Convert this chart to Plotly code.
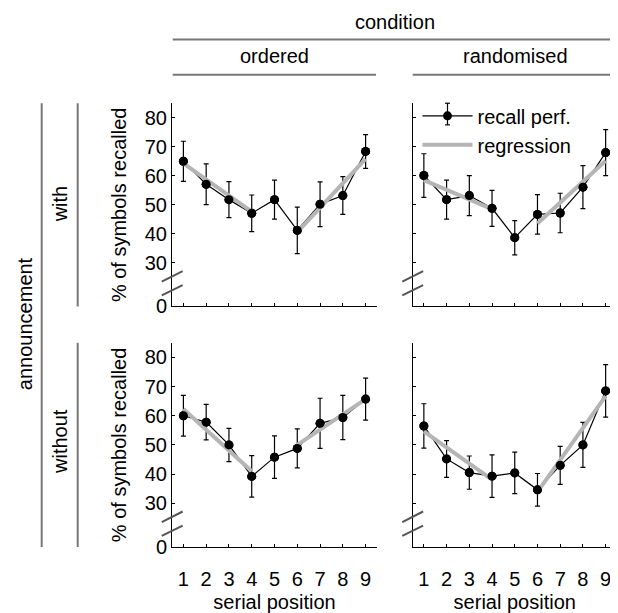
import plotly.graph_objects as go

# The page body has an 8px margin; the figure is sized/offset so that
# page coordinates match the 618x613 reference.
OFF = 8
W, H = 610, 605
FONT = "Liberation Sans, Arial, sans-serif"

# ---------------- data ----------------
positions = [1, 2, 3, 4, 5, 6, 7, 8, 9]

# with announcement
with_ordered = [65.0, 57.1, 51.8, 47.1, 51.8, 41.2, 50.2, 53.2, 68.4]
with_ordered_err = [6.9, 7.0, 6.2, 6.3, 6.7, 8.0, 7.7, 6.5, 5.8]
with_random = [60.1, 51.8, 53.2, 48.8, 38.7, 46.7, 47.2, 56.1, 68.0]
with_random_err = [7.5, 6.7, 6.9, 6.2, 5.9, 6.8, 6.8, 7.4, 7.9]

# without announcement
without_ordered = [60.0, 57.8, 50.0, 39.2, 45.8, 48.8, 57.4, 59.4, 65.7]
without_ordered_err = [7.0, 6.1, 5.7, 7.1, 7.3, 6.7, 8.6, 7.6, 7.2]
without_random = [56.5, 45.2, 40.5, 39.3, 40.4, 34.6, 43.0, 50.0, 68.5]
without_random_err = [7.6, 6.3, 5.7, 7.3, 7.1, 5.6, 6.5, 7.7, 9.0]

# regression segments (endpoints at positions 1-4 and 6-9)
reg_x = [1, 4, None, 6, 9]
reg_with_ordered = [64.3, 47.7, None, 40.6, 65.8]
reg_with_random = [58.5, 48.5, None, 43.6, 65.2]
reg_without_ordered = [62.3, 41.0, None, 50.0, 65.7]
reg_without_random = [54.6, 38.1, None, 33.9, 66.7]

y_tick_labels = [0, 30, 40, 50, 60, 70, 80]
Y_BREAK = 15  # axis position where the broken axis shows "0"
Y_TOP = 85

# ---------------- helpers ----------------
def px(x):
    return (x - OFF) / W

def py(y):
    return (H - (y - OFF)) / H

fig = go.Figure()

panels = [
    ("x", "y", with_ordered, with_ordered_err, reg_with_ordered, False),
    ("x2", "y2", with_random, with_random_err, reg_with_random, True),
    ("x3", "y3", without_ordered, without_ordered_err, reg_without_ordered, False),
    ("x4", "y4", without_random, without_random_err, reg_without_random, False),
]

for xa, ya, vals, errs, reg, legend in panels:
    fig.add_trace(go.Scatter(
        x=positions, y=vals, xaxis=xa, yaxis=ya,
        mode="lines+markers", name="recall perf.", showlegend=legend,
        line=dict(color="black", width=1.2),
        marker=dict(color="black", size=9),
        error_y=dict(type="data", array=errs, visible=True,
                     color="black", thickness=1.2, width=2.5),
    ))
    fig.add_trace(go.Scatter(
        x=reg_x, y=reg, xaxis=xa, yaxis=ya,
        mode="lines", name="regression", showlegend=legend,
        line=dict(color="#b5b5b5", width=4),
    ))
    fig.add_trace(go.Scatter(
        x=positions, y=vals, xaxis=xa, yaxis=ya,
        mode="markers", showlegend=False, hoverinfo="skip",
        marker=dict(color="black", size=9),
    ))

xdom_left = [px(172), px(377)]
xdom_right = [px(412.5), px(617)]
ydom_top = [py(312), py(105)]
ydom_bot = [py(557), py(349)]

tickvals = [Y_BREAK] + y_tick_labels[1:]
ticktext = [str(v) for v in y_tick_labels]

def xaxis(dom, anchor, labels):
    d = dict(domain=dom, anchor=anchor, range=[0.5, 9.5],
             tickvals=positions, ticks="inside", ticklen=3, tickcolor="black",
             showline=True, linecolor="black", linewidth=1,
             showgrid=False, zeroline=False, showticklabels=labels,
             tickfont=dict(size=20, color="black", family=FONT))
    if labels:
        d["ticklabelstandoff"] = 14
        d["title"] = dict(text="serial position", standoff=6,
                          font=dict(size=20, color="black", family=FONT))
    return d

def yaxis(dom, anchor, labels):
    d = dict(domain=dom, anchor=anchor, range=[Y_BREAK, Y_TOP],
             tickvals=tickvals, ticktext=ticktext,
             ticks="inside", ticklen=3, tickcolor="black",
             showline=True, linecolor="black", linewidth=1,
             showgrid=False, zeroline=False, showticklabels=labels,
             tickfont=dict(size=20, color="black", family=FONT))
    if labels:
        d["title"] = dict(text="% of symbols recalled", standoff=12,
                          font=dict(size=20, color="black", family=FONT))
    return d

fig.update_layout(
    xaxis=xaxis(xdom_left, "y", False),
    xaxis2=xaxis(xdom_right, "y2", False),
    xaxis3=xaxis(xdom_left, "y3", True),
    xaxis4=xaxis(xdom_right, "y4", True),
    yaxis=yaxis(ydom_top, "x", True),
    yaxis2=yaxis(ydom_top, "x2", False),
    yaxis3=yaxis(ydom_bot, "x3", True),
    yaxis4=yaxis(ydom_bot, "x4", False),
)

shapes = []
annotations = []
GRAY = "#777777"

def hline(x0, x1, y, color=GRAY, width=2):
    shapes.append(dict(type="line", xref="paper", yref="paper",
                       x0=px(x0), x1=px(x1), y0=py(y), y1=py(y),
                       line=dict(color=color, width=width)))

def vline(x, y0, y1, color=GRAY, width=2):
    shapes.append(dict(type="line", xref="paper", yref="paper",
                       x0=px(x), x1=px(x), y0=py(y0), y1=py(y1),
                       line=dict(color=color, width=width)))

def text(t, x, y, angle=0):
    annotations.append(dict(text=t, x=px(x), y=py(y), xref="paper", yref="paper",
                            showarrow=False, textangle=angle,
                            xanchor="center", yanchor="middle",
                            font=dict(size=20, color="black", family=FONT)))

# column headers
text("condition", 395, 22)
hline(172.7, 616.5, 40)
text("ordered", 274, 57)
text("randomised", 515, 57)
hline(172.7, 376, 76)
hline(412.7, 616.5, 76)

# row headers
text("announcement", 25, 330, -90)
vline(41.7, 105, 557)
text("with", 60, 208, -90)
vline(77.7, 105, 312)
text("without", 60, 450, -90)
vline(77.7, 349, 557)

# axis break marks
for xa, ya in [("x", "y"), ("x2", "y2"), ("x3", "y3"), ("x4", "y4")]:
    for y0, y1 in [(0.122, 0.174), (0.055, 0.105)]:
        shapes.append(dict(type="line", xref=f"{xa} domain", yref=f"{ya} domain",
                           x0=-0.05, x1=0.052, y0=y0, y1=y1,
                           line=dict(color="#555555", width=2)))

# error-bar glyph on the legend's "recall perf." symbol
LEG_X, LEG_Y = 417.5, 98
ex, ey0, ey1 = LEG_X + 30, 105, 127
vline(ex, ey0, ey1, color="black", width=1.2)
hline(ex - 2.5, ex + 2.5, ey0, color="black", width=1.2)
hline(ex - 2.5, ex + 2.5, ey1, color="black", width=1.2)

fig.update_layout(
    width=W, height=H,
    margin=dict(l=0, r=0, t=0, b=0),
    paper_bgcolor="white", plot_bgcolor="white",
    font=dict(family=FONT, size=20, color="black"),
    showlegend=True,
    legend=dict(x=px(LEG_X), y=py(LEG_Y), xanchor="left", yanchor="top",
                bgcolor="rgba(0,0,0,0)", borderwidth=0,
                font=dict(size=20, color="black", family=FONT),
                itemwidth=50, tracegroupgap=0),
    shapes=shapes,
    annotations=annotations,
)

fig.write_html("out.html")
